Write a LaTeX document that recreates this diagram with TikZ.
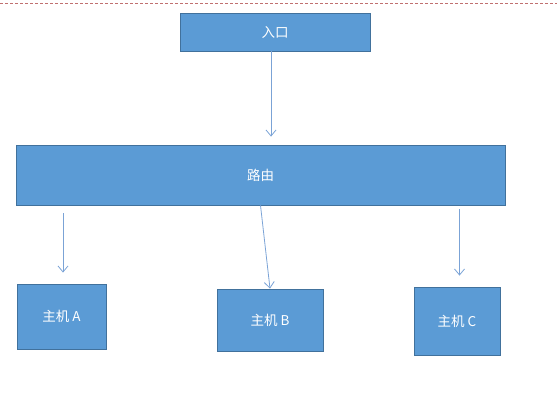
\documentclass[tikz,border=0pt]{standalone}
\usepackage{fontspec}
\setmainfont{Noto Sans CJK SC}
\usetikzlibrary{arrows.meta}
\definecolor{boxfill}{HTML}{5B9BD5}
\definecolor{boxline}{HTML}{41719C}
\definecolor{linkcol}{HTML}{7BA3D6}
\definecolor{pagemark}{HTML}{C07070}
\begin{document}
\begin{tikzpicture}[x=1pt, y=-1pt,
		box/.style={draw=boxline, fill=boxfill, line width=0.8pt, text=white, inner sep=0pt,
			font=\fontsize{13.5}{15}\selectfont},
		link/.style={draw=linkcol, line width=0.8pt, -{Straight Barb[length=6pt, width=10pt, line width=0.8pt]}}]
		\useasboundingbox (0,0) rectangle (557,403);
		\draw[pagemark, line width=0.6pt, dash pattern=on 3pt off 2pt] (0,3) -- (557,3);
		% boxes
		\node[box, minimum width=190, minimum height=38] (entry) at (275,32) {入口};
		\node[box, minimum width=489, minimum height=60] (router) at (260.5,175) {路由};
		\node[box, minimum width=89, minimum height=65] (hostA) at (61.5,316.5) {主机 A};
		\node[box, minimum width=106, minimum height=62] (hostB) at (270,320) {主机 B};
		\node[box, minimum width=86, minimum height=68] (hostC) at (457,321) {主机 C};
		% arrows
		\draw[link, shorten >=8pt] ([xshift=-4pt]entry.south) -- ([xshift=-4pt]entry.south |- router.north);
		\draw[link, shorten <=8pt, shorten >=11pt] ([xshift=1.5pt]hostA.north |- router.south) -- ([xshift=1.5pt]hostA.north);
		\draw[link] (router.south) -- (hostB.north);
		\draw[link, shorten <=4pt, shorten >=11pt] ([xshift=2.5pt]hostC.north |- router.south) -- ([xshift=2.5pt]hostC.north);
	\end{tikzpicture}
\end{document}
